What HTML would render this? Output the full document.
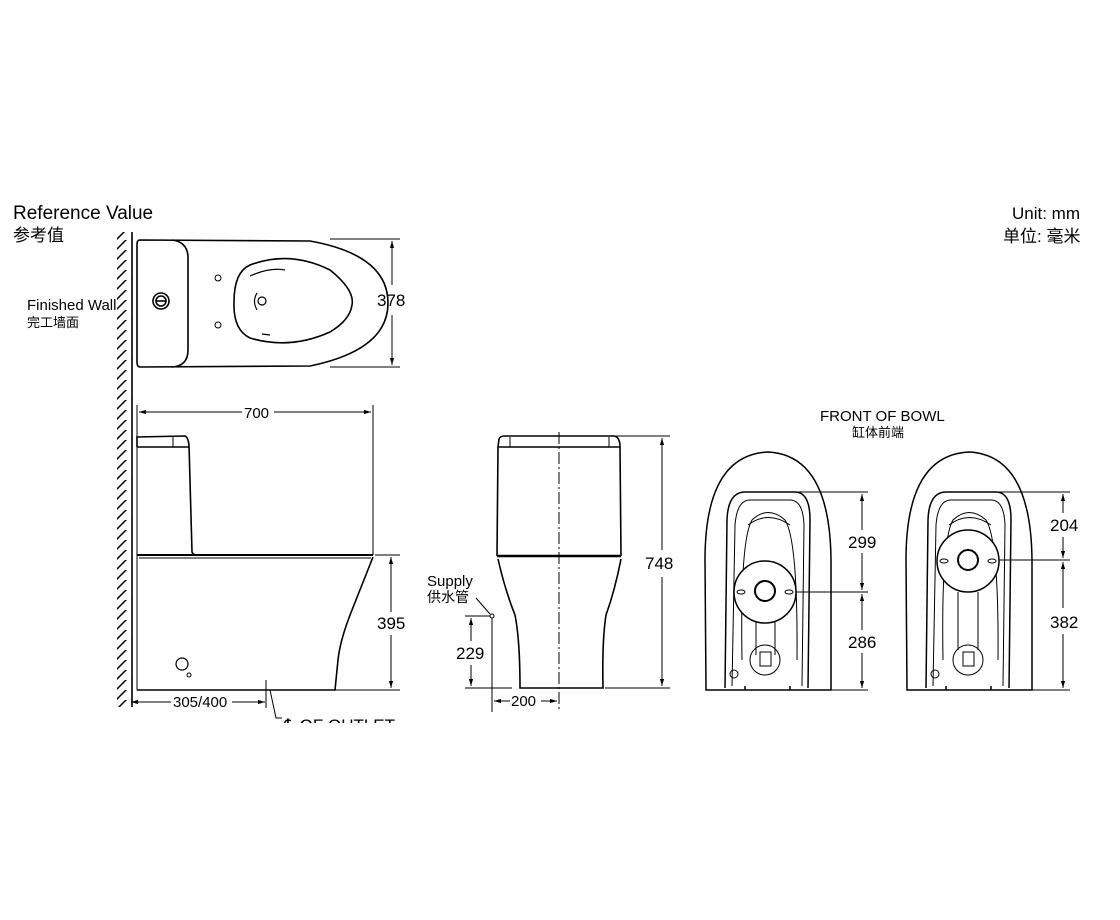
<!DOCTYPE html>
<html><head><meta charset="utf-8"><style>
html,body{margin:0;padding:0;background:#fff;}
svg{display:block}
text{font-family:"Liberation Sans","Noto Sans CJK SC",sans-serif;fill:#000}
</style></head><body>
<svg width="1120" height="920" viewBox="0 0 1120 920" xmlns="http://www.w3.org/2000/svg">
<defs>
<pattern id="h" width="16" height="10" patternUnits="userSpaceOnUse"><line x1="0" y1="14" x2="16" y2="-2" stroke="#000" stroke-width="1.5"/></pattern>
<marker id="a" viewBox="0 0 10 10" refX="10" refY="5" markerWidth="7" markerHeight="7" orient="auto-start-reverse"><path d="M0,2 L10,5 L0,8 z" fill="#000"/></marker>
<clipPath id="cl"><rect x="0" y="0" width="1120" height="723"/></clipPath>
</defs>
<g fill="none" stroke="#000" stroke-width="1.6">
<rect x="117" y="232" width="15" height="475" fill="url(#h)" stroke="none"/>
<line x1="132" y1="232" x2="132" y2="707"/>
<path d="M140,240 L310,241 Q388,255 388,303 Q388,350 310,366 L140,367 Q137,367 137,362 L137,244 Q137,240 140,240 Z"/>
<path d="M172,240 Q188,242 188,258 L188,350 Q188,366 172,367"/>
<circle cx="161" cy="301" r="8"/><circle cx="161" cy="301" r="5"/><line x1="156" y1="301" x2="166" y2="301"/>
<circle cx="218" cy="278" r="3" stroke-width="1"/><circle cx="218" cy="325" r="3" stroke-width="1"/>
<path d="M250,265 Q290,250 330,270 Q355,290 352,305 Q350,320 330,332 Q290,350 250,338 Q233,330 234,302 Q234,272 250,265 Z"/>
<path d="M250,276 Q270,267 285,270" stroke-width="1.2"/><path d="M262,334 L270,335" stroke-width="1.2"/>
<circle cx="262" cy="301" r="4" stroke-width="1.2"/><path d="M257,293 Q252,301 257,310" stroke-width="1.2"/>
<line x1="330" y1="239" x2="400" y2="239" stroke-width="1"/><line x1="330" y1="367" x2="400" y2="367" stroke-width="1"/>
<line x1="392" y1="241" x2="392" y2="285" stroke-width="1" marker-start="url(#a)"/><line x1="392" y1="315" x2="392" y2="365" stroke-width="1" marker-end="url(#a)"/>
<line x1="137" y1="405" x2="137" y2="690" stroke-width="1"/><line x1="373" y1="405" x2="373" y2="555" stroke-width="1"/>
<line x1="139" y1="412" x2="242" y2="412" stroke-width="1" marker-start="url(#a)"/><line x1="274" y1="412" x2="371" y2="412" stroke-width="1" marker-end="url(#a)"/>
<path d="M137,447 L137,437 L185,436 Q188,437 189,445 L192,552 Q193,555 197,555"/>
<line x1="137" y1="447" x2="189" y2="447"/><line x1="173" y1="437" x2="173" y2="447" stroke-width="1"/>
<line x1="137" y1="555" x2="373" y2="555" stroke-width="2"/><line x1="139" y1="558" x2="371" y2="558" stroke-width="1"/>
<path d="M373,557 Q362,585 352,610 Q340,640 338,660 Q336,680 335,690 L137,690"/>
<circle cx="182" cy="664" r="6" stroke-width="1.2"/><circle cx="189" cy="675" r="2" stroke-width="1"/>
<line x1="375" y1="555" x2="400" y2="555" stroke-width="1"/><line x1="335" y1="690" x2="400" y2="690" stroke-width="1"/>
<line x1="391" y1="557" x2="391" y2="612" stroke-width="1" marker-start="url(#a)"/><line x1="391" y1="635" x2="391" y2="688" stroke-width="1" marker-end="url(#a)"/>
<line x1="131" y1="702" x2="171" y2="702" stroke-width="1" marker-start="url(#a)"/><line x1="232" y1="702" x2="265" y2="702" stroke-width="1" marker-end="url(#a)"/>
<line x1="266" y1="680" x2="266" y2="708" stroke-width="1"/>
<path d="M270,690 L276,718 L282,718" stroke-width="1"/>
<path d="M498,447 L499,439 Q500,436 505,436 L614,436 Q620,437 620,447"/>
<line x1="498" y1="447" x2="620" y2="447"/>
<line x1="510" y1="437" x2="510" y2="447" stroke-width="1"/><line x1="609" y1="437" x2="609" y2="447" stroke-width="1"/>
<line x1="498" y1="447" x2="497" y2="556"/><line x1="620" y1="447" x2="621" y2="556"/>
<line x1="497" y1="556" x2="621" y2="556" stroke-width="2.5"/>
<path d="M498,559 Q505,590 515,615 Q520,640 520,688 L603,688 Q602,640 606,615 Q615,590 621,559"/>
<line x1="559" y1="432" x2="559" y2="710" stroke-width="1" stroke-dasharray="12,3,2,3"/>
<line x1="610" y1="436" x2="670" y2="436" stroke-width="1"/><line x1="605" y1="688" x2="670" y2="688" stroke-width="1"/>
<line x1="662" y1="438" x2="662" y2="550" stroke-width="1" marker-start="url(#a)"/><line x1="662" y1="577" x2="662" y2="686" stroke-width="1" marker-end="url(#a)"/>
<line x1="465" y1="616" x2="492" y2="616" stroke-width="1"/><line x1="465" y1="688" x2="512" y2="688" stroke-width="1"/>
<line x1="471" y1="618" x2="471" y2="641" stroke-width="1" marker-start="url(#a)"/><line x1="471" y1="665" x2="471" y2="686" stroke-width="1" marker-end="url(#a)"/>
<line x1="492" y1="618" x2="492" y2="712" stroke-width="1"/>
<circle cx="492" cy="616" r="2" stroke-width="1" fill="#fff"/>
<line x1="476" y1="598" x2="490" y2="614" stroke-width="1"/>
<line x1="494" y1="701" x2="510" y2="701" stroke-width="1" marker-start="url(#a)"/><line x1="541" y1="701" x2="557" y2="701" stroke-width="1" marker-end="url(#a)"/>
</g>
<g fill="none" stroke="#000" stroke-width="1.5" id="fb">
<path d="M706,690 L705,560 Q705,455 768,452 Q830,455 831,560 L831,690 Z"/>
<path d="M725,688 L727,520 Q728,492 745,492 L795,492 Q810,492 810,520 L808,688"/>
<path d="M732,686 L735,525 Q737,500 750,500 L790,500 Q803,500 804,525 L802,686" stroke-width="1"/>
<path d="M742,660 Q740,540 752,520 Q768,505 785,520 Q798,540 797,660" stroke-width="1"/>
<path d="M748,525 Q768,510 790,525" stroke-width="1"/>
<line x1="745" y1="690" x2="745" y2="686" /><line x1="790" y1="690" x2="790" y2="686"/>
<circle cx="734" cy="674" r="4" stroke-width="1"/>
</g>
<g fill="none" stroke="#000" stroke-width="1.5">
<circle cx="765" cy="592" r="31" fill="#fff"/>
<circle cx="765" cy="591" r="10" stroke-width="2"/>
<ellipse cx="741" cy="592" rx="4" ry="2" stroke-width="1"/><ellipse cx="789" cy="592" rx="4" ry="2" stroke-width="1"/>
<path d="M756,622 L756,655 M775,622 L775,655" stroke-width="1"/>
<circle cx="765" cy="660" r="15" stroke-width="1"/><rect x="760" y="652" width="11" height="14" stroke-width="1"/>
<line x1="796" y1="592" x2="868" y2="592" stroke-width="1"/>
<line x1="790" y1="492" x2="868" y2="492" stroke-width="1"/><line x1="808" y1="690" x2="868" y2="690" stroke-width="1"/>
<line x1="862" y1="494" x2="862" y2="530" stroke-width="1" marker-start="url(#a)"/><line x1="862" y1="553" x2="862" y2="590" stroke-width="1" marker-end="url(#a)"/>
<line x1="862" y1="594" x2="862" y2="630" stroke-width="1" marker-start="url(#a)"/><line x1="862" y1="653" x2="862" y2="688" stroke-width="1" marker-end="url(#a)"/>
</g>
<use href="#fb" x="201"/>
<g fill="none" stroke="#000" stroke-width="1.5">
<circle cx="968" cy="561" r="31" fill="#fff"/>
<circle cx="968" cy="560" r="10" stroke-width="2"/>
<ellipse cx="944" cy="561" rx="4" ry="2" stroke-width="1"/><ellipse cx="992" cy="561" rx="4" ry="2" stroke-width="1"/>
<path d="M958,592 L958,650 M978,592 L978,650" stroke-width="1"/>
<circle cx="968" cy="660" r="15" stroke-width="1"/><rect x="963" y="652" width="11" height="14" stroke-width="1"/>
<line x1="999" y1="560" x2="1070" y2="560" stroke-width="1"/>
<line x1="990" y1="492" x2="1070" y2="492" stroke-width="1"/><line x1="1010" y1="690" x2="1070" y2="690" stroke-width="1"/>
<line x1="1063" y1="494" x2="1063" y2="513" stroke-width="1" marker-start="url(#a)"/><line x1="1063" y1="537" x2="1063" y2="558" stroke-width="1" marker-end="url(#a)"/>
<line x1="1063" y1="562" x2="1063" y2="608" stroke-width="1" marker-start="url(#a)"/><line x1="1063" y1="634" x2="1063" y2="688" stroke-width="1" marker-end="url(#a)"/>
</g>
<text x="13" y="219" font-size="19">Reference Value</text>
<text x="13" y="241" font-size="17">参考值</text>
<text x="1080" y="219" font-size="17" text-anchor="end">Unit: mm</text>
<text x="1003" y="242" font-size="17">单位: 毫米</text>
<text x="27" y="310" font-size="15">Finished Wall</text>
<text x="27" y="327" font-size="13">完工墙面</text>
<text x="377" y="306" font-size="17">378</text>
<text x="244" y="418" font-size="15">700</text>
<text x="377" y="629" font-size="17">395</text>
<text x="173" y="707" font-size="15">305/400</text>
<text x="284" y="731" font-size="17" clip-path="url(#cl)">℄ OF OUTLET</text>
<text x="427" y="586" font-size="15">Supply</text>
<text x="427" y="602" font-size="14">供水管</text>
<text x="456" y="659" font-size="17">229</text>
<text x="511" y="706" font-size="15">200</text>
<text x="645" y="569" font-size="17">748</text>
<text x="820" y="421" font-size="15">FRONT OF BOWL</text>
<text x="852" y="437" font-size="13">缸体前端</text>
<text x="848" y="548" font-size="17">299</text>
<text x="848" y="648" font-size="17">286</text>
<text x="1050" y="531" font-size="17">204</text>
<text x="1050" y="628" font-size="17">382</text>
</svg>
</body></html>
